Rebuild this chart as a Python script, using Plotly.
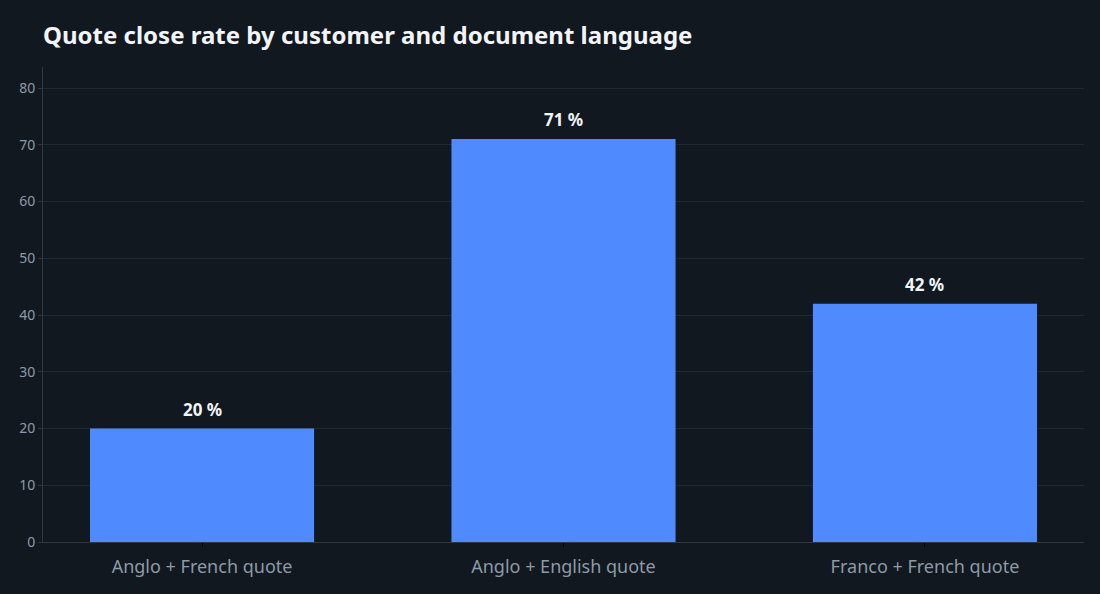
import plotly.graph_objects as go

categories = ["Anglo + French quote", "Anglo + English quote", "Franco + French quote"]
close_rate = [20, 71, 42]
bar_labels = ["20 %", "71 %", "42 %"]

BG = "#111820"
BAR = "#4f8bff"
GRID = "#1e2a33"
AXIS = "#2d3843"
TICK = "#8e9aa6"

fig = go.Figure(go.Bar(
    x=categories, y=close_rate, marker=dict(color=BAR, line=dict(width=0)),
    width=0.62, hoverinfo="skip"))

for c, v, t in zip(categories, close_rate, bar_labels):
    fig.add_annotation(x=c, y=v, text=t, showarrow=False, yanchor="bottom",
                       yshift=6, font=dict(family="Noto Sans", size=17, color="#f2f4f7",
                                           weight="bold"))

fig.update_layout(
    width=1100, height=594,
    paper_bgcolor=BG, plot_bgcolor=BG,
    margin=dict(l=43, r=16, t=67, b=52),
    font=dict(family="Noto Sans", color=TICK),
    title=dict(text="<b>Quote close rate by customer and document language</b>",
               x=0, xref="paper", xanchor="left", y=0.94, yref="container",
               yanchor="middle", font=dict(size=24, color="#f2f4f7", family="Noto Sans")),
    showlegend=False,
)
fig.update_xaxes(range=[-0.44, 2.44], showline=True, linecolor=AXIS, linewidth=1,
                 ticks="outside", ticklen=4, tickcolor="#000000", ticklabelstandoff=4,
                 tickfont=dict(size=18, color=TICK), showgrid=False)
fig.update_yaxes(range=[0, 83.7], dtick=10, showline=True, linecolor=AXIS, linewidth=1,
                 ticks="outside", ticklen=4, tickcolor=AXIS, gridcolor=GRID,
                 tickfont=dict(size=14, color=TICK), zeroline=False)

fig.write_html("out.html", config={"displayModeBar": False},
               post_script="document.body.style.margin='0';document.body.style.background='#111820';")
